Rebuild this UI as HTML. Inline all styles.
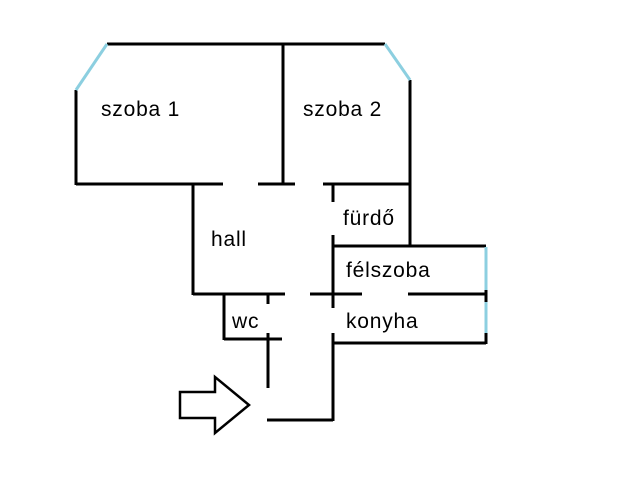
<!DOCTYPE html>
<html><head><style>html,body{margin:0;padding:0;background:#fff}</style></head><body>
<svg width="640" height="480" viewBox="0 0 640 480" xmlns="http://www.w3.org/2000/svg">
<g stroke="#000" stroke-width="3" fill="none">
<line x1="107" y1="44" x2="385" y2="44"/>
<line x1="76" y1="90" x2="76" y2="185"/>
<line x1="283" y1="44" x2="283" y2="184"/>
<line x1="410" y1="80" x2="410" y2="246"/>
<line x1="76" y1="184" x2="223" y2="184"/>
<line x1="258" y1="184" x2="295" y2="184"/>
<line x1="323" y1="184" x2="410" y2="184"/>
<line x1="193" y1="184" x2="193" y2="295"/>
<line x1="333" y1="184" x2="333" y2="202"/>
<line x1="333" y1="235" x2="333" y2="308"/>
<line x1="333" y1="246" x2="486" y2="246"/>
<line x1="193" y1="294" x2="285" y2="294"/>
<line x1="310" y1="294" x2="362" y2="294"/>
<line x1="408" y1="294" x2="486" y2="294"/>
<line x1="486" y1="290" x2="486" y2="302"/>
<line x1="486" y1="333" x2="486" y2="344"/>
<line x1="333" y1="333" x2="333" y2="421"/>
<line x1="333" y1="343" x2="486" y2="343"/>
<line x1="224" y1="294" x2="224" y2="340"/>
<line x1="224" y1="339" x2="282" y2="339"/>
<line x1="268" y1="294" x2="268" y2="304"/>
<line x1="268" y1="333" x2="268" y2="388"/>
<line x1="267" y1="420" x2="333" y2="420"/>
<polygon stroke-width="2.5" points="180,392 215,392 215,377 249,405 215,433 215,418 180,418"/>
</g>
<g stroke="#8ccfe0" stroke-width="3">
<line x1="107" y1="44" x2="76" y2="90"/>
<line x1="385" y1="44" x2="410" y2="80"/>
<line x1="486" y1="247" x2="486" y2="290"/>
<line x1="486" y1="302" x2="486" y2="333"/>
</g>
<g font-family="Liberation Sans, sans-serif" font-size="21" fill="#000" letter-spacing="0.8">
<text x="101" y="116">szoba 1</text>
<text x="303" y="116">szoba 2</text>
<text x="343" y="225">fürdő</text>
<text x="211" y="246">hall</text>
<text x="346" y="277">félszoba</text>
<text x="232" y="328">wc</text>
<text x="346" y="328">konyha</text>
</g>
</svg>
</body></html>
